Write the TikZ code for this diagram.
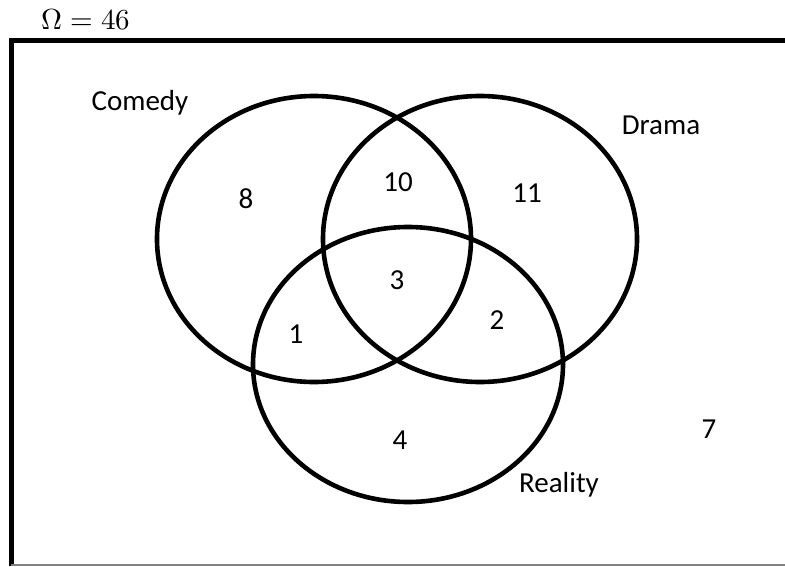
\documentclass[tikz,border=0pt]{standalone}
\usepackage{fontspec}
\usepackage{unicode-math}
\setmainfont{Carlito}
\setmathfont{Latin Modern Math}
\usepackage{tikz}
\usetikzlibrary{shapes.geometric, positioning}

\begin{document}
\begin{tikzpicture}[
    x=1pt, y=-1pt,
    every node/.style={font=\fontsize{29}{32}\selectfont},
    setring/.style={ellipse, draw, line width=4.6pt, inner sep=0pt, minimum width=314pt},
    count/.style={inner sep=0pt},
    frame/.style={line width=5pt}
]
\useasboundingbox (0,0) rectangle (785,566);

% universe
\node[count] (omega) at (86,20) {$\Omega = 46$};
\coordinate (fbl) at (11,566);
\coordinate (ftl) at (11,40.5);
\coordinate (ftr) at (785,40.5);
\coordinate (fbr) at (785,565);
\draw[frame] (fbl) -- (ftl) -- (ftr);
\draw[gray, line width=1.5pt] (11,565) -- (fbr);

% sets
\node[setring, minimum height=286pt] (comedy) at (314,239) {};
\node[setring, minimum height=286pt] (drama) at (480,239) {};
\node[setring, minimum width=310pt, minimum height=275pt] (reality) at (408,364.5) {};

\node[count] (lcomedy) at (140,103) {Comedy};
\node[count] (ldrama) at (661,125) {Drama};
\node[count] (lreality) at (559,485) {Reality};

% regions
\node[count] (c) at (246,199) {8};
\node[count] (cd) at (398,182) {10};
\node[count] (d) at (527,193) {11};
\node[count] (cdr) at (397,280) {3};
\node[count] (cr) at (296,334) {1};
\node[count] (dr) at (497,320) {2};
\node[count] (r) at (400,440) {4};
\node[count] (none) at (709,429) {7};

\end{tikzpicture}
\end{document}
